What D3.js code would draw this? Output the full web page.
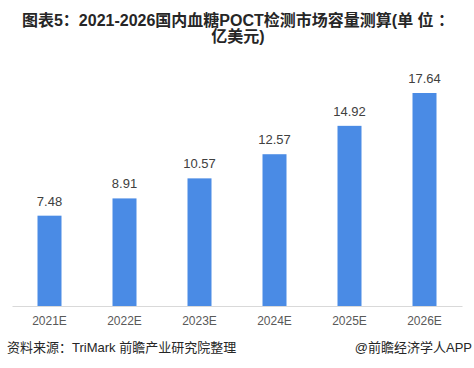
<!DOCTYPE html>
<meta charset="utf-8">
<script src="https://d3js.org/d3.v7.min.js"></script>
<style>
  body { margin: 0; background: #fff; }
  text { font-family: "Liberation Sans", Arial, "Noto Sans CJK SC", sans-serif; }
</style>
<div id="chart"></div>
<script>

// data
var years = ["2021E", "2022E", "2023E", "2024E", "2025E", "2026E"];
var values = [7.48, 8.91, 10.57, 12.57, 14.92, 17.64];

var width = 474, height = 368;
var margin = {top: 93, right: 12, bottom: 62, left: 12};
var baseY = height - margin.bottom;

var svg = d3.select("#chart")
  .append("svg")
    .attr("width", width)
    .attr("height", height);

// title
var title = svg.append("text")
  .attr("text-anchor", "middle")
  .attr("font-size", 16)
  .attr("font-weight", "bold")
  .attr("fill", "#262626");
title.append("tspan").attr("x", 238).attr("y", 26)
  .text("图表5：2021-2026国内血糖POCT检测市场容量测算(单 位 ：");
title.append("tspan").attr("x", 238).attr("y", 42)
  .text("亿美元)");

// scales
var x = d3.scaleBand()
  .domain(years)
  .range([margin.left, width - margin.right])
  .paddingInner(0.68)
  .paddingOuter(0.34);

var y = d3.scaleLinear()
  .domain([0, 17.64])
  .range([baseY, margin.top]);

// bars
svg.selectAll("rect.bar")
  .data(values)
  .enter()
  .append("rect")
    .attr("class", "bar")
    .attr("x", function(d, i) { return x(years[i]); })
    .attr("y", function(d) { return y(d); })
    .attr("width", x.bandwidth())
    .attr("height", function(d) { return baseY - y(d); })
    .attr("fill", "#4a8be5");

// value labels
svg.selectAll("text.val")
  .data(values)
  .enter()
  .append("text")
    .attr("class", "val")
    .attr("x", function(d, i) { return x(years[i]) + x.bandwidth() / 2; })
    .attr("y", function(d) { return y(d) - 10; })
    .attr("text-anchor", "middle")
    .attr("font-size", 13)
    .attr("fill", "#404040")
    .text(function(d) { return d.toFixed(2); });

// x axis
var xAxis = svg.append("g")
  .attr("transform", "translate(0," + baseY + ")")
  .call(d3.axisBottom(x).tickSize(0).tickPadding(10));
xAxis.select(".domain").attr("stroke", "#d9d9d9");
xAxis.selectAll("text")
  .attr("font-size", 12)
  .attr("fill", "#595959")
  .style("font-family", "\"Liberation Sans\", Arial, sans-serif");

// source
svg.append("text")
  .attr("x", 7).attr("y", 352)
  .attr("font-size", 13)
  .attr("fill", "#262626")
  .text("资料来源：TriMark 前瞻产业研究院整理");
svg.append("text")
  .attr("x", 472).attr("y", 352)
  .attr("text-anchor", "end")
  .attr("font-size", 13)
  .attr("fill", "#262626")
  .text("@前瞻经济学人APP");

</script>
